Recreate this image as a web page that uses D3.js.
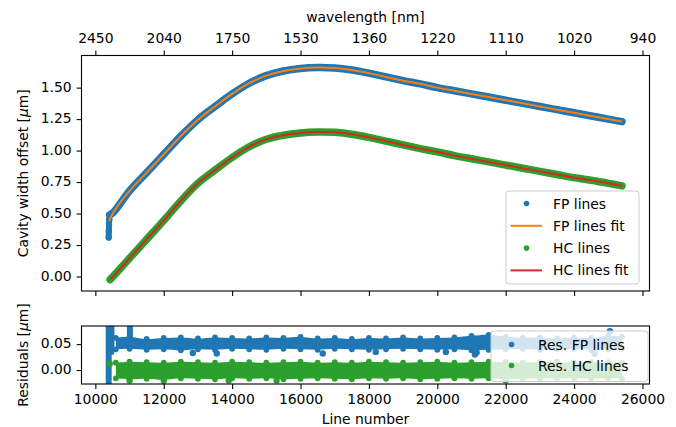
<!DOCTYPE html>
<html><head><meta charset="utf-8">
<script src="https://cdn.jsdelivr.net/npm/d3@7"></script>
<style>
body{margin:0;background:#fff}
text{font-family:"DejaVu Sans",sans-serif;font-size:13.9px;fill:#000}
</style>
</head><body><svg id="chart" width="676" height="427"></svg>
<script>
// ---------------- data ----------------
const xTicks = [10000, 12000, 14000, 16000, 18000, 20000, 22000, 24000, 26000];
const wavelengthLabels = ["2450", "2040", "1750", "1530", "1360", "1220", "1110", "1020", "940"];
const yTicksTop = [0, 0.25, 0.5, 0.75, 1.0, 1.25, 1.5];
const yTicksRes = [0, 0.05];

const lineNumbers = [10530, 11000, 11500, 12000, 12500, 13000, 13500, 14000, 14500, 15000, 15500, 16000, 16500,
  17000, 17500, 18000, 18500, 19000, 19500, 20000, 20500, 21000, 21500, 22000, 22500, 23000, 23500, 24000, 24500, 25000, 25400];
const fpLines = [0.51, 0.68, 0.825, 0.97, 1.115, 1.245, 1.35, 1.45, 1.535, 1.595, 1.632, 1.652, 1.66,
  1.656, 1.64, 1.615, 1.585, 1.555, 1.53, 1.50, 1.475, 1.45, 1.425, 1.40, 1.375, 1.35, 1.325, 1.30, 1.275, 1.25, 1.23];
const fpLinesFit = [0.51, 0.68, 0.825, 0.97, 1.115, 1.245, 1.35, 1.45, 1.535, 1.595, 1.632, 1.652, 1.66,
  1.656, 1.64, 1.615, 1.585, 1.555, 1.53, 1.50, 1.475, 1.45, 1.425, 1.40, 1.375, 1.35, 1.325, 1.30, 1.275, 1.25, 1.23];
const fpFitStart = [[10400, 0.44]];
const fpStartCluster = [[10390, 0.31], [10395, 0.36], [10400, 0.41], [10405, 0.45], [10420, 0.49]];

const hcLineNumbers = [10430, 10500, 11000, 11500, 12000, 12500, 13000, 13500, 14000, 14500, 15000, 15500, 16000, 16500,
  17000, 17500, 18000, 18500, 19000, 19500, 20000, 20500, 21000, 21500, 22000, 22500, 23000, 23500, 24000, 24500, 25000, 25400];
const hcLines = [-0.025, -0.005, 0.145, 0.295, 0.445, 0.60, 0.74, 0.845, 0.945, 1.03, 1.09, 1.122, 1.14, 1.148,
  1.145, 1.13, 1.105, 1.075, 1.045, 1.015, 0.99, 0.96, 0.935, 0.91, 0.885, 0.86, 0.835, 0.81, 0.785, 0.765, 0.74, 0.72];
const hcLinesFit = [-0.02, -0.005, 0.145, 0.295, 0.445, 0.60, 0.74, 0.845, 0.945, 1.03, 1.09, 1.122, 1.14, 1.148,
  1.145, 1.13, 1.105, 1.075, 1.045, 1.015, 0.99, 0.96, 0.935, 0.91, 0.885, 0.86, 0.835, 0.81, 0.785, 0.765, 0.74, 0.72];

// residuals: band envelope
const resLine = [10600, 11000, 11500, 12000, 12500, 13000, 13500, 14000, 14500, 15000, 15500, 16000, 16500, 17000, 17500,
  18000, 18500, 19000, 19500, 20000, 20500, 21000, 21500, 22000, 22500, 23000, 23500, 24000, 24500, 25000, 25400];
const resFpHigh = [0.062, 0.064, 0.060, 0.062, 0.063, 0.061, 0.063, 0.062, 0.061, 0.063, 0.062, 0.064, 0.061, 0.062, 0.060,
  0.062, 0.061, 0.063, 0.061, 0.062, 0.063, 0.066, 0.068, 0.064, 0.062, 0.063, 0.061, 0.063, 0.062, 0.066, 0.064];
const resFpLow = [0.040, 0.041, 0.039, 0.040, 0.038, 0.040, 0.039, 0.041, 0.040, 0.039, 0.041, 0.040, 0.039, 0.041, 0.040,
  0.039, 0.040, 0.041, 0.040, 0.039, 0.040, 0.038, 0.039, 0.040, 0.041, 0.039, 0.040, 0.041, 0.039, 0.040, 0.041];
const resHcHigh = [0.014, 0.016, 0.015, 0.014, 0.016, 0.015, 0.014, 0.016, 0.015, 0.014, 0.015, 0.016, 0.014, 0.015, 0.014,
  0.016, 0.015, 0.014, 0.015, 0.016, 0.014, 0.015, 0.016, 0.015, 0.014, 0.015, 0.016, 0.014, 0.015, 0.015, 0.014];
const resHcLow = [-0.016, -0.018, -0.017, -0.019, -0.016, -0.017, -0.018, -0.016, -0.017, -0.016, -0.018, -0.017, -0.016, -0.017, -0.018,
  -0.016, -0.017, -0.016, -0.018, -0.017, -0.016, -0.017, -0.016, -0.018, -0.017, -0.016, -0.017, -0.016, -0.017, -0.016, -0.017];
const resFpSpikes = [[10390, -0.05, 0.10], [10470, 0.035, 0.10], [11010, 0.045, 0.10]];
const resFpOutliers = [[12850, 0.033], [13550, 0.032], [16650, 0.032], [18200, 0.035], [20250, 0.035], [21100, 0.030], [21150, 0.034], [24600, 0.032], [25050, 0.075]];
const resHcOutliers = [[10420, 0.012], [11000, -0.020], [12000, -0.021], [13900, -0.020], [15300, -0.020], [22000, -0.020]];

// ---------------- layout ----------------
const C = {blue: "#1f77b4", orange: "#ff7f0e", green: "#2ca02c", red: "#d62728"};
const L = 81.5, R = 649.5, T1 = 55.5, B1 = 291, T2 = 326, B2 = 384;
const svg = d3.select("#chart");

const x = d3.scaleLinear().domain([9595, 26205]).range([L, R]);
const yTop = d3.scaleLinear().domain([-0.115, 1.755]).range([B1, T1]);
const yRes = d3.scaleLinear().domain([-0.027, 0.085]).range([B2, T2]);

const defs = svg.append("defs");
defs.append("clipPath").attr("id", "clipTop").append("rect").attr("x", L).attr("y", T1).attr("width", R - L).attr("height", B1 - T1);
defs.append("clipPath").attr("id", "clipRes").append("rect").attr("x", L).attr("y", T2).attr("width", R - L).attr("height", B2 - T2);

// ---------------- top panel ----------------
const gTop = svg.append("g").attr("clip-path", "url(#clipTop)");
const lineTop = d3.line().x(d => x(d[0])).y(d => yTop(d[1])).curve(d3.curveCatmullRom.alpha(0.5));

const fpPts = d3.zip(lineNumbers, fpLines);
const hcPts = d3.zip(hcLineNumbers, hcLines);

// FP measured points (dense scatter band)
gTop.append("path").datum(fpStartCluster).attr("d", d3.line().x(d => x(d[0])).y(d => yTop(d[1])))
  .attr("fill", "none").attr("stroke", C.blue).attr("stroke-width", 6).attr("stroke-linecap", "round");
gTop.append("path").datum(fpStartCluster.slice(-1).concat(fpPts)).attr("d", lineTop)
  .attr("fill", "none").attr("stroke", C.blue).attr("stroke-width", 7.5).attr("stroke-linecap", "round").attr("stroke-linejoin", "round");
gTop.selectAll("circle.fp").data(fpStartCluster.concat(fpPts)).join("circle")
  .attr("cx", d => x(d[0])).attr("cy", d => yTop(d[1])).attr("r", 3.2).attr("fill", C.blue);
// FP fit
gTop.append("path").datum(fpFitStart.concat(d3.zip(lineNumbers, fpLinesFit))).attr("d", lineTop)
  .attr("fill", "none").attr("stroke", C.orange).attr("stroke-width", 2);

// HC measured
gTop.append("path").datum(hcPts).attr("d", lineTop)
  .attr("fill", "none").attr("stroke", C.green).attr("stroke-width", 7.5).attr("stroke-linecap", "round").attr("stroke-linejoin", "round");
gTop.selectAll("circle.hc").data(hcPts).join("circle")
  .attr("cx", d => x(d[0])).attr("cy", d => yTop(d[1])).attr("r", 3.2).attr("fill", C.green);
// HC fit
gTop.append("path").datum(d3.zip(hcLineNumbers, hcLinesFit)).attr("d", lineTop)
  .attr("fill", "none").attr("stroke", C.red).attr("stroke-width", 2);

// ---------------- residual panel ----------------
const gRes = svg.append("g").attr("clip-path", "url(#clipRes)");
const resArea = d3.area().x(d => x(d[0])).y0(d => yRes(d[1])).y1(d => yRes(d[2])).curve(d3.curveCatmullRom);
function drawResBand(lo, hi, color) {
  const rows = d3.zip(resLine, lo, hi);
  gRes.append("path").datum(rows).attr("d", resArea).attr("fill", color);
  gRes.append("g").selectAll("circle").data(rows.flatMap(r => [[r[0], r[1]], [r[0], r[2]]])).join("circle")
    .attr("cx", d => x(d[0])).attr("cy", d => yRes(d[1])).attr("r", 2.9).attr("fill", color);
}
drawResBand(resFpLow, resFpHigh, C.blue);
drawResBand(resHcLow, resHcHigh, C.green);
gRes.selectAll("line.spike").data(resFpSpikes).join("line")
  .attr("x1", d => x(d[0])).attr("x2", d => x(d[0])).attr("y1", d => yRes(d[1])).attr("y2", d => yRes(d[2]))
  .attr("stroke", C.blue).attr("stroke-width", 6).attr("stroke-linecap", "round");
gRes.selectAll("circle.fpo").data(resFpOutliers).join("circle")
  .attr("cx", d => x(d[0])).attr("cy", d => yRes(d[1])).attr("r", 3.2).attr("fill", C.blue);
gRes.selectAll("circle.hco").data(resHcOutliers).join("circle")
  .attr("cx", d => x(d[0])).attr("cy", d => yRes(d[1])).attr("r", 3.2).attr("fill", C.green);

// ---------------- axes ----------------
const TK = 4.9, PAD = 4.9;
function styleAxis(g) {
  g.select(".domain").remove();
  g.attr("font-size", null).attr("font-family", null);
  g.selectAll(".tick line").attr("stroke", "#000").attr("stroke-width", 1.1);
}
svg.append("g").attr("transform", `translate(0,${T1})`)
  .call(d3.axisTop(x).tickValues(xTicks).tickFormat((d, i) => wavelengthLabels[i]).tickSize(TK).tickPadding(PAD).tickSizeOuter(0))
  .call(styleAxis).selectAll("text").attr("dy", "-0.22em");
svg.append("g").attr("transform", `translate(0,${B1})`)
  .call(d3.axisBottom(x).tickValues(xTicks).tickFormat("").tickSize(TK).tickSizeOuter(0)).call(styleAxis);
svg.append("g").attr("transform", `translate(0,${B2})`)
  .call(d3.axisBottom(x).tickValues(xTicks).tickFormat(d3.format("d")).tickSize(TK).tickPadding(PAD).tickSizeOuter(0)).call(styleAxis);
svg.append("g").attr("transform", `translate(${L},0)`)
  .call(d3.axisLeft(yTop).tickValues(yTicksTop).tickFormat(d3.format(".2f")).tickSize(TK).tickPadding(PAD).tickSizeOuter(0))
  .call(styleAxis).selectAll("text").attr("dy", "0.25em");
svg.append("g").attr("transform", `translate(${L},0)`)
  .call(d3.axisLeft(yRes).tickValues(yTicksRes).tickFormat(d3.format(".2f")).tickSize(TK).tickPadding(PAD).tickSizeOuter(0))
  .call(styleAxis).selectAll("text").attr("dy", "0.25em");

// spines
[[T1, B1], [T2, B2]].forEach(([t, b]) => {
  svg.append("rect").attr("x", L).attr("y", t).attr("width", R - L).attr("height", b - t)
    .attr("fill", "none").attr("stroke", "#000").attr("stroke-width", 1.1);
});

// axis labels
svg.append("text").attr("x", (L + R) / 2).attr("y", 22).attr("text-anchor", "middle").text("wavelength [nm]");
svg.append("text").attr("x", (L + R) / 2).attr("y", 424).attr("text-anchor", "middle").text("Line number");
function yLabel(cy, main) {
  const t = svg.append("text").attr("transform", `translate(28,${cy}) rotate(-90)`).attr("text-anchor", "middle");
  t.append("tspan").text(main + " [");
  t.append("tspan").attr("font-style", "italic").text("μ");
  t.append("tspan").text("m]");
}
yLabel((T1 + B1) / 2, "Cavity width offset");
yLabel((T2 + B2) / 2, "Residuals");

// ---------------- legends ----------------
const legendTop = [
  {label: "FP lines", type: "dot", color: C.blue},
  {label: "FP lines fit", type: "line", color: C.orange},
  {label: "HC lines", type: "dot", color: C.green},
  {label: "HC lines fit", type: "line", color: C.red}
];
const legendRes = [
  {label: "Res. FP lines", type: "dot", color: C.blue},
  {label: "Res. HC lines", type: "dot", color: C.green}
];
function drawLegend(items, bx, by, bw, bh, y0, step) {
  const g = svg.append("g");
  g.append("rect").attr("x", bx).attr("y", by).attr("width", bw).attr("height", bh).attr("rx", 3)
    .attr("fill", "#fff").attr("fill-opacity", 0.8).attr("stroke", "#cccccc").attr("stroke-width", 1);
  items.forEach((it, i) => {
    const cy = y0 + i * step;
    if (it.type === "dot") {
      g.append("circle").attr("cx", bx + 20.5).attr("cy", cy).attr("r", 2.8).attr("fill", it.color);
    } else {
      g.append("line").attr("x1", bx + 4.5).attr("x2", bx + 36).attr("y1", cy).attr("y2", cy)
        .attr("stroke", it.color).attr("stroke-width", 2);
    }
    g.append("text").attr("x", bx + 47).attr("y", cy).attr("dy", "0.36em").text(it.label);
  });
}
drawLegend(legendTop, 506, 191, 133, 93, 203.5, 22.3);
drawLegend(legendRes, 491, 331, 157, 50.5, 344.5, 21);
</script>
</body></html>
